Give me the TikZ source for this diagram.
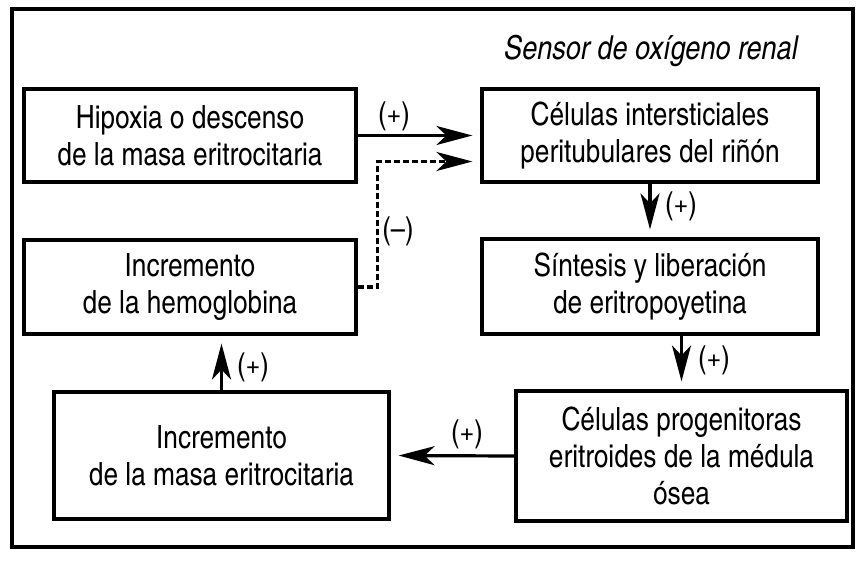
\documentclass[tikz,border=0pt]{standalone}
\usepackage{fontspec}
\setmainfont{TeX Gyre Heros Cn}
\usetikzlibrary{arrows.meta,positioning}

\tikzset{
    caja/.style={draw, line width=1.6pt, align=center, inner sep=0pt, font=\fontsize{16}{18.5}\selectfont},
    flecha/.style={line width=1.6pt, -{Stealth[length=18pt,width=9.5pt,inset=5pt]}, shorten >=4pt},
    signo/.style={font=\fontsize{15.5}{16}\selectfont},
}

\begin{document}
\begin{tikzpicture}[x=0.5pt,y=-0.5pt]
    \useasboundingbox (0,0) rectangle (867,562);
    \draw[line width=1.6pt] (12,9) rectangle (853,547);

    \node[font=\fontsize{16.5}{18}\selectfont\itshape] (sensor) at (651,51) {Sensor de oxígeno renal};

    \node[caja, minimum width=166pt, minimum height=46.5pt] (hipoxia) at (190,135.5) {Hipoxia o descenso\\de la masa eritrocitaria};
    \node[caja, minimum width=168pt, minimum height=46.5pt] (celulas) at (650,135.5) {Células intersticiales\\peritubulares del riñón};
    \node[caja, minimum width=168pt, minimum height=47.5pt] (sintesis) at (650,286.5) {Síntesis y liberación\\de eritropoyetina};
    \node[caja, minimum width=166pt, minimum height=47pt] (hemoglobina) at (190,287) {Incremento\\de la hemoglobina};
    \node[caja, minimum width=167.5pt, minimum height=63.5pt] (masa) at (221.5,455.5) {Incremento\\de la masa eritrocitaria};
    \node[caja, minimum width=165.5pt, minimum height=65pt] (progenitoras) at (681.5,456) {Células progenitoras\\eritroides de la médula\\ósea};

    \draw[flecha] (hipoxia.east) -- (celulas.west);
    \draw[flecha, dash pattern=on 3pt off 1.5pt] (hemoglobina.east) -- ++(10pt,0) |- ([yshift=-13pt]celulas.west);
    \draw[flecha] (celulas.south) -- (sintesis.north);
    \draw[flecha] (sintesis.south -| progenitoras.north) -- (progenitoras.north);
    \draw[flecha] (progenitoras.west) -- (masa.east);
    \draw[flecha] (masa.north) -- (masa.north |- hemoglobina.south);

    \node[signo] (s1) at (394,116) {(+)};
    \node[signo] (s2) at (398,231) {(--)};
    \node[signo] (s3) at (681,206) {(+)};
    \node[signo] (s4) at (714,360) {(+)};
    \node[signo] (s5) at (467,434) {(+)};
    \node[signo] (s6) at (253,367) {(+)};
\end{tikzpicture}
\end{document}
